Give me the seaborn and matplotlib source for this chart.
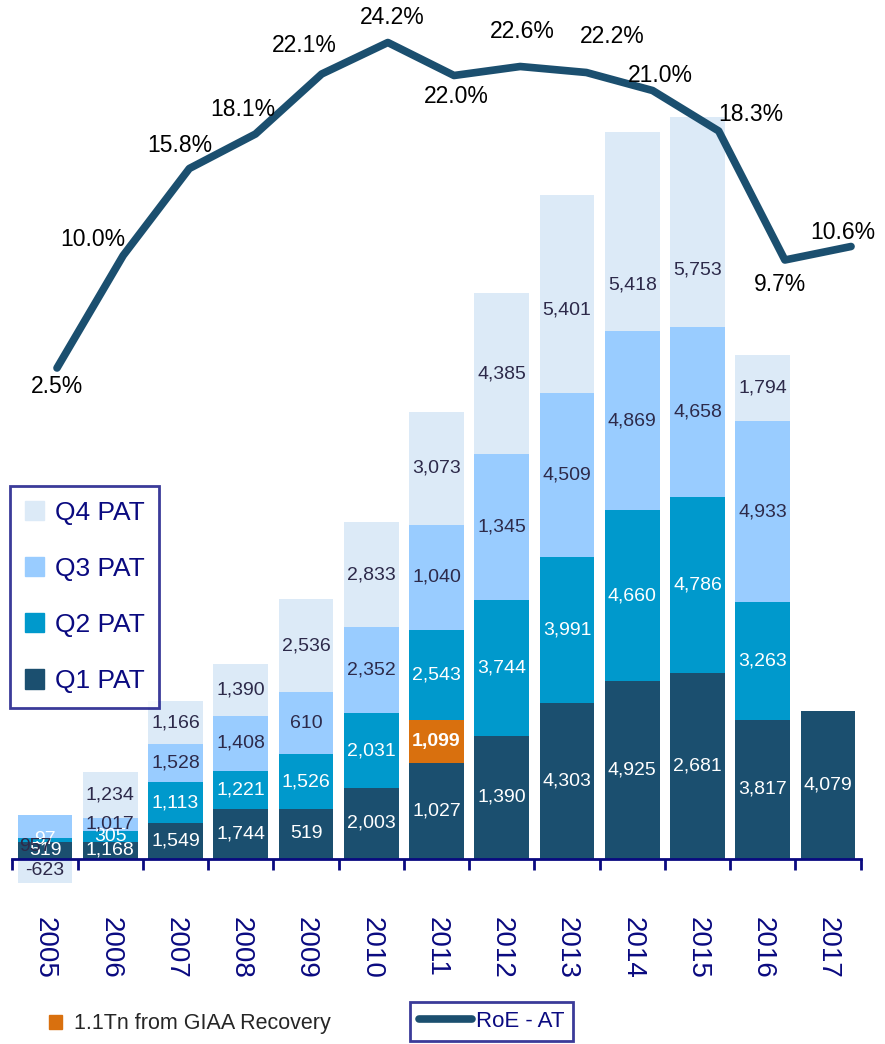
import numpy as np
import matplotlib
matplotlib.use("Agg")
import matplotlib.pyplot as plt
import seaborn as sns
from matplotlib.patches import Patch
from matplotlib.lines import Line2D

sns.set_style("white")
plt.rcParams["font.family"] = ["Liberation Sans", "DejaVu Sans"]

# DATEN
years = ["2005", "2006", "2007", "2008", "2009", "2010", "2011",
         "2012", "2013", "2014", "2015", "2016", "2017"]

# Balkenhoehen
q1_h = [456, 456, 980, 1367, 1367, 1947, 2638, 3383, 4295, 4902, 5123, 3825, 4074]
giaa_h = [0, 0, 0, 0, 0, 0, 1188, 0, 0, 0, 0, 0, 0]
q2_h = [110, 304, 1132, 1050, 1519, 2071, 2486, 3756, 4032, 4723, 4861, 3259, 0]
q3_h = [635, 359, 1050, 1519, 1712, 2375, 2900, 4032, 4530, 4944, 4695, 4999, 0]
q4_h = [-677, 1270, 1188, 1436, 2569, 2900, 3121, 4447, 5469, 5496, 5800, 1823, 0]

# Beschriftungen der Segmente
q1_lbl = ["519", "1,168", "1,549", "1,744", "519", "2,003", "1,027", "1,390",
          "4,303", "4,925", "2,681", "3,817", "4,079"]
giaa_lbl = ["", "", "", "", "", "", "1,099", "", "", "", "", "", ""]
q2_lbl = ["97", "305", "1,113", "1,221", "1,526", "2,031", "2,543", "3,744",
          "3,991", "4,660", "4,786", "3,263", ""]
q3_lbl = ["957", "1,017", "1,528", "1,408", "610", "2,352", "1,040", "1,345",
          "4,509", "4,869", "4,658", "4,933", ""]
q4_lbl = ["-623", "1,234", "1,166", "1,390", "2,536", "2,833", "3,073", "4,385",
          "5,401", "5,418", "5,753", "1,794", ""]

roe = [2.5, 10.0, 15.8, 18.1, 22.1, 24.2, 22.0, 22.6, 22.2, 21.0, 18.3, 9.7, 10.6]
roe_lbl = [f"{v:.1f}%" for v in roe]

# Farben
c_q1 = "#1B4F6F"
c_q2 = "#0099CC"
c_q3 = "#99CCFF"
c_q4 = "#DCEAF7"
c_giaa = "#D9700E"
navy = "#0A0A80"
dark_txt = "#2D2A4A"

W, H = 885, 1044
fig = plt.figure(figsize=(W / 100, H / 100), dpi=100)
rect = [12.4 / W, 1 - 900 / H, 848.2 / W, 900 / H]
ax = fig.add_axes(rect)

# GESTAPELTE BALKEN
k = 27.62  # Einheiten pro Pixel
b_giaa = np.array(q1_h)
b_q2 = b_giaa + np.array(giaa_h)
b_q3 = b_q2 + np.array(q2_h)
b_q4 = np.where(np.array(q4_h) < 0, 0, b_q3 + np.array(q3_h))

layers = [
    (q1_h, np.zeros(13), c_q1, q1_lbl, "white", "Q1"),
    (giaa_h, b_giaa, c_giaa, giaa_lbl, "white", "GIAA"),
    (q2_h, b_q2, c_q2, q2_lbl, "white", "Q2"),
    (q3_h, b_q3, c_q3, q3_lbl, dark_txt, "Q3"),
    (q4_h, b_q4, c_q4, q4_lbl, dark_txt, "Q4"),
]

# Verschobene Beschriftungen (px, nach unten positiv)
nudge = {("Q3", 0): (-10, 20), ("Q4", 8): (0, 16), ("Q4", 9): (0, 53), ("Q4", 10): (0, 48)}

for vals, bottom, col, lbls, tcol, name in layers:
    sns.barplot(x=years, y=vals, bottom=bottom, color=col, saturation=1,
                width=0.84, errorbar=None, edgecolor="none", linewidth=0, ax=ax)
    for i, (v, b, t) in enumerate(zip(vals, bottom, lbls)):
        if not t:
            continue
        dx, dy = nudge.get((name, i), (0, 0))
        ax.annotate(t, (i, b + v / 2), xytext=(dx * 0.72, -dy * 0.72),
                    textcoords="offset points", ha="center", va="center",
                    fontsize=14, color=tcol,
                    fontweight="bold" if name == "GIAA" else "normal")

ax.set_xlim(-0.5, 12.5)
ax.set_ylim(-(900 - 858.5) * k, 858.5 * k)
ax.set_xlabel("")
ax.set_ylabel("")
ax.set_yticks([])
ax.patch.set_alpha(0)
for s in ["top", "right", "left"]:
    ax.spines[s].set_visible(False)
ax.spines["bottom"].set_position(("data", 0))
ax.spines["bottom"].set_color(navy)
ax.spines["bottom"].set_linewidth(2)
ax.set_xticks(range(13))
ax.set_xticklabels(years)
ax.set_xticks(np.arange(-0.5, 13, 1), minor=True)
ax.tick_params(axis="x", which="major", bottom=True, length=0, pad=42, labelsize=20,
               labelcolor=navy, labelrotation=-90)
ax.tick_params(axis="x", which="minor", bottom=True, length=8, width=2, color=navy,
               direction="out")

# Legende Quartale
leg_handles = [Patch(color=c) for c in [c_q4, c_q3, c_q2, c_q1]]
leg = ax.legend(leg_handles, ["Q4 PAT", "Q3 PAT", "Q2 PAT", "Q1 PAT"],
                loc="upper left", bbox_to_anchor=(10 / W, 1 - 486 / H),
                bbox_transform=fig.transFigure, borderaxespad=0, fontsize=19,
                handlelength=0.75, handleheight=0.75, handletextpad=0.4,
                labelspacing=1.22, borderpad=0.55, fancybox=False, frameon=True)
leg.get_frame().set_edgecolor(navy)
leg.get_frame().set_linewidth(2)
for t in leg.get_texts():
    t.set_color(navy)

# ROE-LINIE
ax2 = fig.add_axes(rect)
ax2.patch.set_alpha(0)
x_line = np.arange(13)
sns.lineplot(x=x_line, y=roe, color=c_q1, linewidth=5.5, ax=ax2,
             solid_capstyle="round", solid_joinstyle="round")
ax2.set_xlim((12.4 - 57) / 66.17, (860.6 - 57) / 66.17)
ax2.set_ylim(-(900 - 405.5) / 15, 405.5 / 15)
ax2.axis("off")

# Offsets der Prozent-Beschriftungen (px, nach unten positiv)
roe_off = [(0, 19), (-30, -16), (-10, -23), (-13, -24), (-17, -28), (4, -25), (2, 21),
           (2, -35), (26, -36), (8, -15), (32, -16), (-5, 25), (-8, -14)]
for i, (v, t) in enumerate(zip(roe, roe_lbl)):
    dx, dy = roe_off[i]
    ax2.annotate(t, (i, v), xytext=(dx * 0.72, -dy * 0.72), textcoords="offset points",
                 ha="center", va="center", fontsize=16.5, color="black")

# Untere Legenden
leg_o = fig.legend([Patch(color=c_giaa)], ["1.1Tn from GIAA Recovery"],
                   loc="center left", bbox_to_anchor=(40 / W, 1 - 1024 / H),
                   borderaxespad=0, frameon=False, fontsize=15.5, handlelength=0.6,
                   handleheight=0.6, handletextpad=0.6)

leg_r = fig.legend([Line2D([0], [0], color=c_q1, lw=5.5, solid_capstyle="round")],
                   ["RoE - AT"], loc="center", bbox_to_anchor=(491.5 / W, 1 - 1021.5 / H),
                   borderaxespad=0, fontsize=16, handlelength=2.4, handletextpad=0.15,
                   borderpad=0.4, fancybox=False, frameon=True)
leg_r.get_frame().set_edgecolor(navy)
leg_r.get_frame().set_linewidth(2)
for t in leg_r.get_texts():
    t.set_color(navy)

fig.savefig("out.png", dpi=100)
